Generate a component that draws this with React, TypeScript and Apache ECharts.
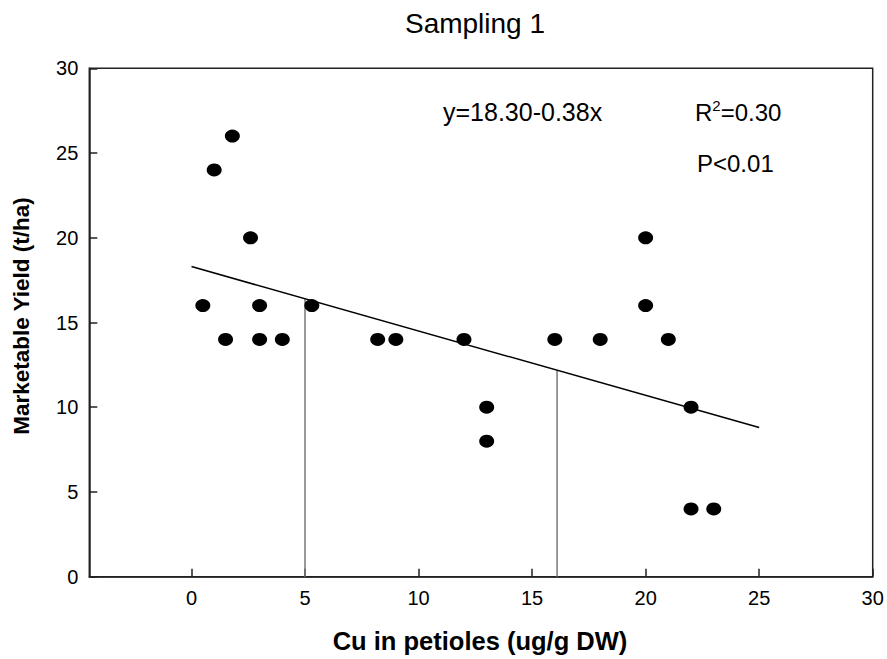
import React, { useEffect, useRef } from "react";
import * as echarts from "echarts";

const xTicks = [0, 5, 10, 15, 20, 25, 30];
const yTicks = [0, 5, 10, 15, 20, 25, 30];
const cuValues = [0.5, 1, 1.5, 1.8, 2.6, 3, 3, 4, 5.3, 8.2, 9, 12, 13, 13, 16, 18, 20, 20, 21, 22, 22, 23];
const yieldValues = [16, 24, 14, 26, 20, 16, 14, 14, 16, 14, 14, 14, 10, 8, 14, 14, 20, 16, 14, 10, 4, 4];
const fitIntercept = 18.3;
const fitSlope = -0.38;
const fitRange = [0, 25];
const dropX = [5, 16.1];
const titleText = "Sampling 1";
const xName = "Cu in petioles (ug/g DW)";
const yName = "Marketable Yield (t/ha)";
const eqText = "y=18.30-0.38x";
const pText = "P<0.01";

const FONT = "'Liberation Sans', Arial, Helvetica, sans-serif";

export default function App() {
  const ref = useRef<HTMLDivElement>(null);
  useEffect(() => {
    if (!ref.current) return;
    const chart = echarts.init(ref.current, null, { renderer: "svg" });
    const points = cuValues.map((x, i) => [x, yieldValues[i]]);
    const fitLine = fitRange.map((x) => [x, fitIntercept + fitSlope * x]);
    const dropSeries = dropX.map((x) => ({
      type: "line",
      data: [
        [x, 0],
        [x, fitIntercept + fitSlope * x],
      ],
      symbol: "none",
      lineStyle: { color: "#777", width: 1.5 },
      z: 1,
    }));
    chart.setOption({
      animation: false,
      backgroundColor: "#fff",
      grid: {
        left: 89.3,
        top: 68.3,
        right: 14.3,
        bottom: 82.3,
        show: true,
        borderColor: "#222",
        borderWidth: 1.5,
        containLabel: false,
      },
      xAxis: {
        type: "value",
        min: -4.5,
        max: 30,
        splitLine: { show: false },
        axisLine: { show: true, onZero: false, lineStyle: { color: "#222", width: 1.5 } },
        axisTick: { show: true, inside: true, length: 8, customValues: xTicks, lineStyle: { color: "#222", width: 1.5 } },
        axisLabel: { customValues: xTicks, margin: 11, fontSize: 20, color: "#000", fontFamily: FONT },
      },
      yAxis: {
        type: "value",
        min: 0,
        max: 30,
        interval: 5,
        splitLine: { show: false },
        axisLine: { show: true, onZero: false, lineStyle: { color: "#222", width: 1.5 } },
        axisTick: { show: true, inside: true, length: 8, lineStyle: { color: "#222", width: 1.5 } },
        axisLabel: {
          margin: 11,
          fontSize: 20,
          color: "#000",
          fontFamily: FONT,
          formatter: (v: number) => (yTicks.includes(v) ? String(v) : ""),
        },
      },
      series: [
        ...dropSeries,
        {
          type: "line",
          data: fitLine,
          symbol: "none",
          lineStyle: { color: "#000", width: 1.5 },
          z: 2,
        },
        {
          type: "scatter",
          data: points,
          symbol: "circle",
          symbolSize: [15, 13],
          itemStyle: { color: "#000", opacity: 1 },
          z: 3,
        },
      ],
      graphic: [
        {
          type: "text",
          x: 475,
          y: 23,
          style: { text: titleText, fontSize: 28, fontFamily: FONT, fill: "#000", align: "center", verticalAlign: "middle" },
        },
        {
          type: "text",
          x: 480,
          y: 641,
          style: { text: xName, fontSize: 25.5, fontWeight: "bold", fontFamily: FONT, fill: "#000", align: "center", verticalAlign: "middle" },
        },
        {
          type: "text",
          x: 21,
          y: 316,
          rotation: Math.PI / 2,
          style: { text: yName, fontSize: 22.5, fontWeight: "bold", fontFamily: FONT, fill: "#000", align: "center", verticalAlign: "middle" },
        },
        {
          type: "text",
          x: 443,
          y: 112,
          style: { text: eqText, fontSize: 25, fontFamily: FONT, fill: "#000", align: "left", verticalAlign: "middle" },
        },
        {
          type: "text",
          x: 695,
          y: 112,
          style: {
            text: "{a|R}{b|2}{a|=0.30}",
            fontFamily: FONT,
            align: "left",
            verticalAlign: "middle",
            rich: {
              a: { fontSize: 24, fontFamily: FONT, fill: "#000", color: "#000", lineHeight: 28 },
              b: { fontSize: 15, fontFamily: FONT, fill: "#000", color: "#000", verticalAlign: "top", lineHeight: 28 },
            },
          },
        },
        {
          type: "text",
          x: 697,
          y: 163,
          style: { text: pText, fontSize: 24, fontFamily: FONT, fill: "#000", align: "left", verticalAlign: "middle" },
        },
      ],
    });
    return () => chart.dispose();
  }, []);
  return <div ref={ref} style={{ position: "fixed", left: 0, top: 0, width: 887, height: 659, background: "#fff" }} />;
}
